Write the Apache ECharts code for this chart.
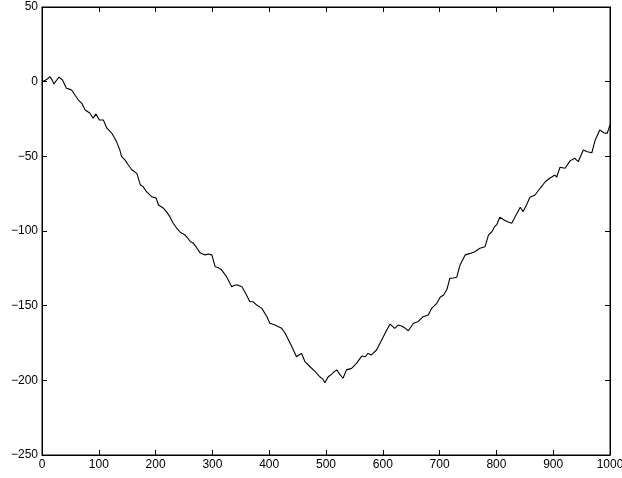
<!DOCTYPE html>
<html>
<head>
<meta charset="utf-8">
<script src="https://cdn.jsdelivr.net/npm/echarts@6/dist/echarts.min.js"></script>
<style>html,body{margin:0;padding:0;background:#fff;}#c{width:622px;height:478px;}</style>
</head>
<body>
<div id="c"></div>
<script>
const xs = [0,5,10,14,18,21,26,30,33,36,40,43,48,52,58,64,70,76,80,84,90,95,101,108,114,123,131,137,140,146,152,158,167,173,178,184,193,201,205,214,219,225,231,237,244,252,257,
261,266,272,278,287,293,299,302,305,310,316,325,334,338,343,352,357,366,372,378,387,396,401,410,422,428,434,440,448,452,457,463,472,481,489,494,498,504,510,515,519,525,530,536,545,554,560,563,569,574,580,589,598,607,613,621,627,633,639,645,654,662,671,680,686,695,701,707,713,718,724,730,736,745,754,762,771,780,786,792,797,801,806,815,821,827,833,842,847,853,859,868,877,886,894,903,906,912,921,930,938,944,953,960,968,974,982,989,995,1000];
const ys = [0,0.7,2,3.3,1,-1.5,1.1,3,2,1.1,-2,-4.4,-5,-5.6,-8.9,-12.3,-14.5,-19,-20,-21,-24.5,-21.6,-25.7,-25.7,-31,-34.6,-40,-45.7,-50,-52.4,-55.8,-59,-61.4,-69,-70.3,-73.7,-77,-78,-82.6,-84.8,-87,-90.4,-94.8,-98,-101,-102.7,-105,
-107,-108,-111,-114.5,-116,-115.4,-116,-120,-124,-124.5,-126,-130.6,-137.3,-136.5,-136,-137.3,-140.7,-147.4,-147.4,-149.6,-151.8,-157.4,-161.8,-163,-165.2,-168.5,-173,-177.5,-184.2,-183,-182,-187.5,-190.9,-194.2,-197.6,-199,-201.6,-197.6,-195.8,-194,-193,-196.4,-198.6,-193,-192,-188.5,-185.3,-183.7,-184.2,-182,-183,-179.7,-173,-166.3,-162.3,-165.2,-163,-163.6,-165,-166.8,-161.8,-160.7,-157.4,-156.3,-151.8,-148.4,-144.4,-142.9,-139,-131.7,-131.5,-131,-122.8,-116,-115,-113.9,-111.6,-110.5,-102.7,-100.5,-97,-95.5,-90.8,-93,-94,-94.8,-90.4,-84.1,-87,-82.6,-77.4,-75.9,-71.4,-67,-64.7,-62.5,-64,-57.3,-58,-52.9,-51.3,-53.6,-45.7,-46.9,-47.6,-39,-32.3,-34.2,-34.6,-29];
const xTicks = [0,100,200,300,400,500,600,700,800,900,1000];
const yTicks = [-250,-200,-150,-100,-50,0,50];

const data = xs.map((x, i) => [x, ys[i]]);
const fmt = v => String(v).replace('-', '\u2212');
const font = {fontFamily: '"Liberation Sans", Arial, Helvetica, sans-serif', fontSize: 12, color: '#000'};
const tick = {show: true, inside: true, length: 5, lineStyle: {color: '#000', width: 1}};
const line = {show: true, onZero: false, lineStyle: {color: '#000', width: 1}};

const chart = echarts.init(document.getElementById('c'), null, {renderer: 'canvas'});
chart.setOption({
  animation: false,
  backgroundColor: '#fff',
  grid: {left: 42, right: 12, top: 7, bottom: 23, show: true, borderColor: '#000', borderWidth: 1,
         containLabel: false, outerBoundsMode: 'none'},
  xAxis: [
    {type: 'value', min: xTicks[0], max: xTicks[xTicks.length-1], interval: 100, position: 'bottom',
     axisLine: line, axisTick: tick, splitLine: {show: false},
     axisLabel: Object.assign({margin: 4, formatter: fmt, showMaxLabel: true, showMinLabel: true,
       alignMinLabel: 'center', alignMaxLabel: 'center'}, font)},
    {type: 'value', min: xTicks[0], max: xTicks[xTicks.length-1], interval: 100, position: 'top',
     axisLine: line, axisTick: tick, splitLine: {show: false}, axisLabel: {show: false}}
  ],
  yAxis: [
    {type: 'value', min: yTicks[0], max: yTicks[yTicks.length-1], interval: 50, position: 'left',
     axisLine: line, axisTick: tick, splitLine: {show: false},
     axisLabel: Object.assign({margin: 4, formatter: fmt}, font)},
    {type: 'value', min: yTicks[0], max: yTicks[yTicks.length-1], interval: 50, position: 'right',
     axisLine: line, axisTick: tick, splitLine: {show: false}, axisLabel: {show: false}}
  ],
  series: [{
    type: 'line', data: data, xAxisIndex: 0, yAxisIndex: 0,
    showSymbol: false, symbol: 'none',
    lineStyle: {color: '#000', width: 1.1}
  }]
});
</script>
</body>
</html>
